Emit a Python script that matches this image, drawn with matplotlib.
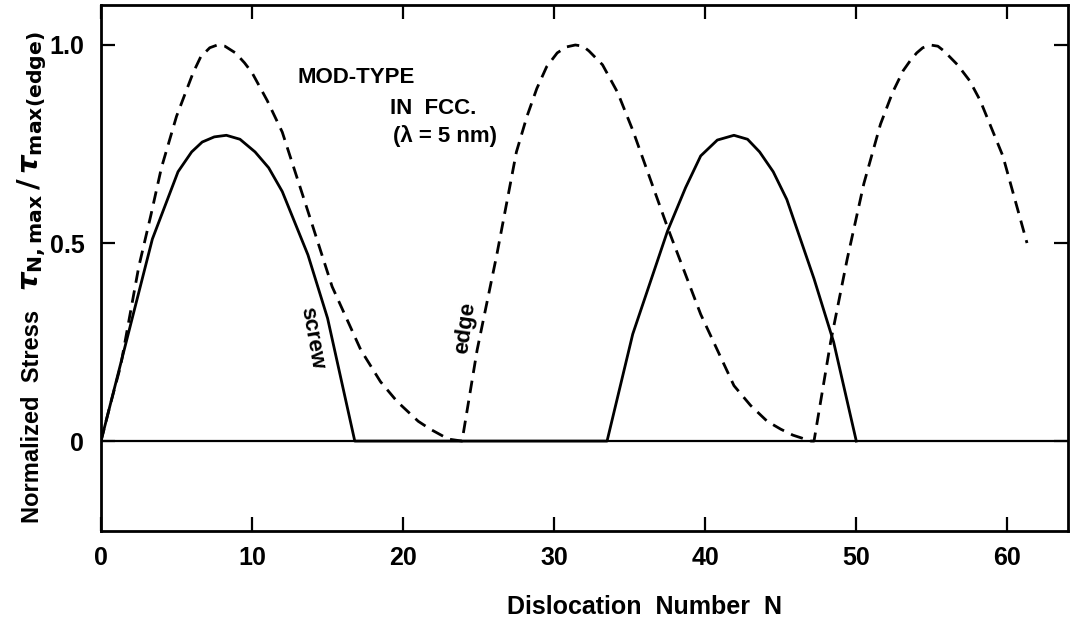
import matplotlib
matplotlib.use("Agg")
import matplotlib.pyplot as plt

# Curves (N, normalized stress)
edge_n = [0, 0.6, 1.3, 2.5, 3.3, 4.0, 5.0, 5.6, 6.1, 6.6, 7.2, 7.7, 8.2, 8.9, 9.5,
          10.0, 11.0, 12.0, 13.7, 15.3, 17.2, 18.5, 19.6, 21.0, 21.8, 23.0,
          23.9, 24.9, 26.2, 27.5, 28.2, 28.85, 29.5, 30.2, 30.8, 31.4, 31.9, 32.3,
          33.2, 34.2, 35.2, 37.5, 39.7, 41.9, 43.0, 44.1, 45.0, 45.8, 47.0,
          47.2, 48.3, 49.4, 50.5, 51.6, 52.4, 53.1, 53.6, 54.0, 54.4, 54.9, 55.4,
          55.8, 56.7, 57.5, 58.2, 59.7, 61.3]
edge_v = [0, 0.09, 0.19, 0.44, 0.57, 0.69, 0.82, 0.88, 0.93, 0.97, 0.993, 1.0, 0.997,
          0.98, 0.955, 0.93, 0.86, 0.78, 0.58, 0.39, 0.23, 0.15, 0.10, 0.05, 0.03, 0.005,
          0, 0.23, 0.47, 0.73, 0.82, 0.89, 0.945, 0.98, 0.995, 1.0, 0.997, 0.985,
          0.95, 0.88, 0.785, 0.54, 0.32, 0.14, 0.09, 0.05, 0.03, 0.015, 0.0,
          0, 0.25, 0.46, 0.65, 0.80, 0.88, 0.935, 0.962, 0.98, 0.993, 1.0, 0.997,
          0.985, 0.95, 0.91, 0.86, 0.72, 0.50]

screw_n = [0, 1.8, 3.4, 5.1, 6.0, 6.7, 7.5, 8.3, 9.2, 10.2, 11.1, 12.0, 13.7, 15.0, 16.8,
           33.5, 35.2, 37.5, 38.7, 39.7, 40.8, 41.9, 42.8, 43.6, 44.5, 45.4, 47.2, 48.5, 50.0]
screw_v = [0, 0.27, 0.51, 0.68, 0.73, 0.755, 0.768, 0.772, 0.762, 0.73, 0.69, 0.63, 0.47, 0.31, 0,
           0, 0.27, 0.53, 0.64, 0.72, 0.76, 0.772, 0.762, 0.73, 0.68, 0.61, 0.41, 0.25, 0]

x_ticks = [0, 10, 20, 30, 40, 50, 60]
y_ticks = [0, 0.5, 1.0]
y_tick_labels = ["0", "0.5", "1.0"]

plt.rcParams["font.family"] = ["Liberation Sans", "DejaVu Sans"]
plt.rcParams["font.weight"] = "bold"
plt.rcParams["mathtext.fontset"] = "dejavusans"

fig = plt.figure(figsize=(10.71, 6.23), dpi=100)
ax = fig.add_axes([0.0943, 0.1477, 0.9027, 0.8443])

ax.axhline(0, color="black", lw=1.6, zorder=1)
ax.plot(screw_n, screw_v, color="black", lw=2.0, solid_joinstyle="round")
ax.plot(edge_n, edge_v, color="black", lw=2.0, dashes=(4.5, 2.8))

ax.set_xlim(0, 64)
ax.set_ylim(-0.227, 1.101)
ax.set_xticks(x_ticks)
ax.set_yticks(y_ticks)
ax.set_yticklabels(y_tick_labels)
ax.tick_params(direction="in", length=10, width=1.6, top=True, right=True,
               labelsize=18)
ax.tick_params(axis="x", pad=11)
ax.tick_params(axis="y", pad=12)
for sp in ax.spines.values():
    sp.set_linewidth(2.0)

# annotations
ax.text(13.0, 0.917, "MOD-TYPE", fontsize=16, fontweight="bold", va="center")
ax.text(19.1, 0.84, "IN  FCC.", fontsize=16, fontweight="bold", va="center")
ax.text(19.3, 0.77, "(λ = 5 nm)", fontsize=16, fontweight="bold", va="center")
ax.text(14.0, 0.26, "screw", fontsize=16, fontweight="bold", rotation=-80,
        ha="center", va="center")
ax.text(24.1, 0.285, "edge", fontsize=16, fontweight="bold", rotation=82,
        ha="center", va="center")

fig.text(0.03, 0.16, "Normalized  Stress", rotation=90, ha="center", va="bottom",
         fontsize=17, fontweight="bold")
fig.text(0.03, 0.95, r"$\tau_{\mathrm{N,max}}\,/\,\tau_{\mathrm{max(edge)}}$",
         rotation=90, ha="center", va="top", fontsize=21)
fig.text(0.602, 0.025, "Dislocation  Number  N", ha="center", va="center",
         fontsize=18, fontweight="bold")

fig.savefig("out.png", dpi=100)
